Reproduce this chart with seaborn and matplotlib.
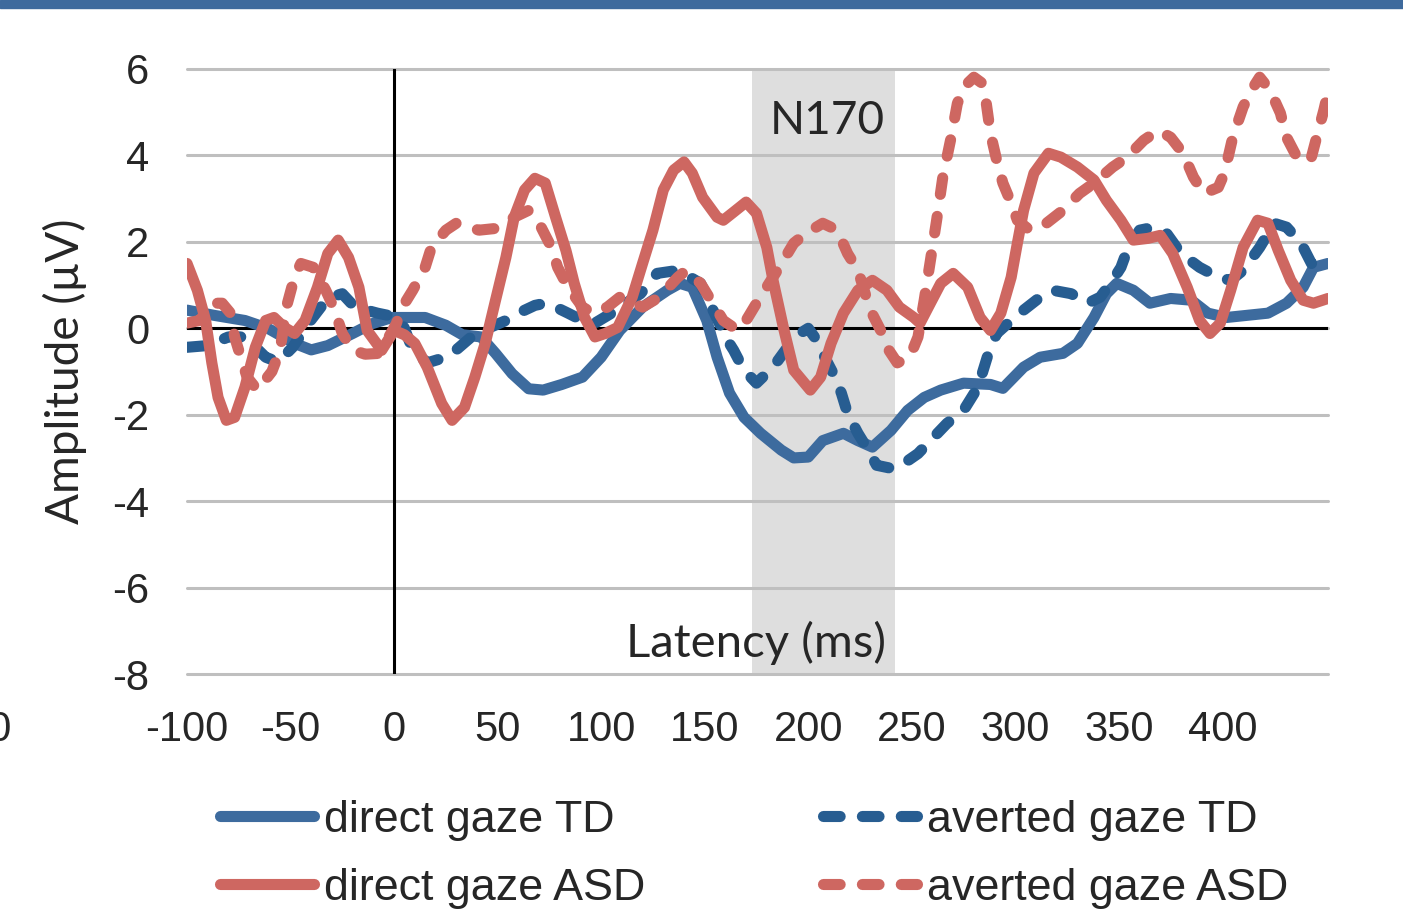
import matplotlib
matplotlib.use('Agg')
import matplotlib.pyplot as plt
import seaborn as sns
from matplotlib.patches import Rectangle

# latency (ms) / amplitude (uV)
direct_td_ms = [-100, -87, -72, -61, -48, -40, -32, -20, -11, -1, 15, 25, 33, 42, 49, 57, 65, 72, 81, 91,
                100, 109, 120, 132, 138, 144, 151, 156, 162, 169, 177, 187, 193, 200, 207, 217, 224, 231, 240,
                248, 256, 264, 275, 288, 294, 304, 312, 323, 330, 338, 344, 349, 357, 365, 375, 385, 393, 402,
                422, 431, 439, 444, 451]
direct_td_uv = [0.42, 0.30, 0.18, 0.00, -0.35, -0.50, -0.40, -0.12, 0.10, 0.25, 0.25, 0.07, -0.15, -0.20,
                -0.58, -1.05, -1.40, -1.43, -1.30, -1.13, -0.67, -0.05, 0.49, 0.88, 1.04, 0.95, 0.18, -0.67,
                -1.50, -2.06, -2.43, -2.82, -3.00, -2.98, -2.60, -2.43, -2.60, -2.75, -2.36, -1.90, -1.60,
                -1.43, -1.27, -1.30, -1.39, -0.90, -0.67, -0.58, -0.35, 0.25, 0.80, 1.04, 0.88, 0.58, 0.69,
                0.65, 0.35, 0.25, 0.35, 0.58, 0.95, 1.41, 1.50]

averted_td_ms = [-100, -90, -80, -72, -62, -56, -49, -40, -32, -25, -19, -8, 2, 5, 9, 16, 25, 30, 38, 43,
                 54, 60, 68, 73, 78, 84, 91, 97, 105, 109, 119, 127, 137, 143, 148, 154, 161, 164, 169, 175,
                 183, 190, 196, 200, 203, 207, 212, 216, 219, 224, 229, 233, 240, 244, 253, 259, 267, 275,
                 282, 287, 291, 298, 304, 312, 318, 327, 335, 341, 347, 351, 354, 360, 367, 373, 380, 389,
                 398, 404, 410, 418, 425, 431, 438, 443, 451]
averted_td_uv = [-0.44, -0.40, -0.20, -0.20, -0.67, -0.78, -0.44, 0.20, 0.70, 0.80, 0.49, 0.35, 0.25, 0.00,
                 -0.50, -0.80, -0.67, -0.50, -0.17, -0.05, 0.18, 0.35, 0.53, 0.58, 0.49, 0.35, 0.18, 0.12,
                 0.35, 0.49, 0.80, 1.27, 1.34, 1.18, 1.04, 0.42, -0.28, -0.51, -0.97, -1.27, -0.90, -0.44,
                 -0.12, 0.00, -0.20, -0.58, -1.04, -1.50, -1.97, -2.43, -2.82, -3.17, -3.24, -3.20, -2.90,
                 -2.60, -2.20, -1.90, -1.36, -0.58, -0.12, 0.18, 0.42, 0.72, 0.88, 0.80, 0.58, 0.72, 1.11,
                 1.41, 1.80, 2.27, 2.34, 2.20, 1.73, 1.41, 1.18, 1.11, 1.34, 1.87, 2.43, 2.34, 1.97, 1.50,
                 1.41]

direct_asd_ms = [-100, -95, -91, -88, -85, -81, -77, -72, -67, -62, -58, -53, -48, -43, -37, -32, -27, -22,
                 -17, -13, -6, 0, 5, 10, 16, 23, 28, 34, 39, 44, 49, 54, 58, 63, 68, 73, 78, 83, 87, 92, 97,
                 102, 108, 115, 120, 125, 130, 135, 140, 144, 149, 156, 159, 164, 170, 175, 180, 183, 188,
                 193, 201, 206, 211, 217, 224, 231, 238, 244, 251, 254, 258, 264, 270, 277, 283, 288, 293,
                 298, 301, 304, 309, 316, 322, 330, 338, 344, 351, 357, 364, 370, 376, 383, 389, 394, 399,
                 404, 410, 417, 422, 427, 433, 439, 444, 451]
direct_asd_uv = [1.50, 0.88, 0.18, -0.80, -1.60, -2.13, -2.06, -1.36, -0.44, 0.18, 0.25, 0.02, -0.12, 0.18,
                 0.95, 1.73, 2.04, 1.64, 0.95, -0.05, -0.51, -0.05, -0.15, -0.35, -0.90, -1.74, -2.13,
                 -1.83, -1.13, -0.35, 0.65, 1.64, 2.57, 3.20, 3.47, 3.36, 2.57, 1.80, 1.04, 0.25, -0.20,
                 -0.12, 0.02, 0.72, 1.50, 2.27, 3.20, 3.66, 3.85, 3.59, 3.03, 2.57, 2.50, 2.69, 2.92, 2.66,
                 1.87, 1.11, 0.02, -0.97, -1.43, -1.13, -0.35, 0.35, 0.88, 1.11, 0.88, 0.49, 0.25, 0.12,
                 0.49, 1.04, 1.27, 0.95, 0.25, -0.05, 0.35, 1.18, 1.97, 2.73, 3.59, 4.05, 3.96, 3.73, 3.43,
                 2.96, 2.50, 2.04, 2.08, 2.15, 1.73, 0.95, 0.18, -0.12, 0.12, 0.88, 1.87, 2.50, 2.43, 1.80,
                 1.11, 0.65, 0.58, 0.69]

averted_asd_ms = [-100, -94, -87, -83, -79, -77, -74, -71, -66, -59, -55, -52, -48, -45, -39, -33, -29, -25,
                  -20, -14, -7, 1, 4, 9, 15, 18, 25, 30, 41, 49, 58, 65, 71, 76, 79, 84, 91, 96, 103, 109,
                  120, 128, 137, 141, 148, 153, 159, 166, 170, 175, 186, 193, 199, 207, 214, 219, 224, 227,
                  230, 235, 238, 243, 249, 253, 256, 259, 262, 265, 269, 272, 275, 280, 284, 286, 288, 291,
                  294, 298, 301, 307, 315, 323, 331, 338, 347, 354, 362, 369, 375, 381, 386, 391, 398, 401,
                  405, 410, 414, 418, 423, 428, 431, 436, 439, 443, 446, 449, 451]
averted_asd_uv = [0.12, 0.18, 0.58, 0.58, 0.35, -0.20, -0.67, -1.13, -1.43, -1.00, -0.50, 0.49, 1.20, 1.50,
                  1.41, 0.88, 0.46, -0.12, -0.50, -0.60, -0.58, 0.10, 0.49, 0.88, 1.41, 1.87, 2.27, 2.43,
                  2.27, 2.31, 2.57, 2.73, 2.34, 1.87, 1.41, 0.95, 0.49, 0.35, 0.49, 0.72, 0.49, 0.72, 1.18,
                  1.34, 1.04, 0.65, 0.18, -0.05, 0.18, 0.58, 1.41, 1.97, 2.20, 2.43, 2.27, 1.73, 1.34, 0.88,
                  0.42, -0.05, -0.44, -0.80, -0.67, -0.20, 0.65, 1.57, 2.50, 3.50, 4.42, 5.20, 5.58, 5.81,
                  5.67, 5.20, 4.51, 3.89, 3.36, 2.90, 2.50, 2.27, 2.43, 2.73, 3.12, 3.36, 3.73, 3.96, 4.35,
                  4.58, 4.42, 4.05, 3.50, 3.12, 3.26, 3.59, 4.42, 5.12, 5.51, 5.81, 5.51, 4.98, 4.42, 3.96,
                  3.84, 3.96, 4.51, 5.05, 5.46]

x_ticks = [-100, -50, 0, 50, 100, 150, 200, 250, 300, 350, 400]
y_ticks = [-8, -6, -4, -2, 0, 2, 4, 6]
n170_window = (173, 242)

blue_solid = '#3d6b9e'
blue_dash = '#275d91'
red = '#ce6761'

sns.set_style('white')
plt.rcParams['font.family'] = ['Liberation Sans', 'DejaVu Sans']
plt.rcParams['axes.unicode_minus'] = False

fig = plt.figure(figsize=(14.03, 9.22), dpi=100)
ax = fig.add_axes([187 / 1403, 1 - 674 / 922, 1141 / 1403, 605 / 922])

# blue strip across the top of the slide
fig.patches.append(Rectangle((0, 1 - 8 / 922), 1, 8 / 922, transform=fig.transFigure,
                             color='#3e6a9d', zorder=0))

ax.axvspan(*n170_window, color='#dedede', lw=0, zorder=0)
for v in y_ticks:
    ax.axhline(v, color='#bfbfbf', lw=2.2, zorder=0.5, clip_on=False)
ax.axhline(0, color='black', lw=2.2, zorder=1)
ax.axvline(0, color='black', lw=2.2, zorder=1)

lw = 8
dash = (0, (1.5, 2.0))
common = dict(ax=ax, lw=lw, solid_capstyle='round', dash_capstyle='round', zorder=3)
sns.lineplot(x=direct_td_ms, y=direct_td_uv, color=blue_solid, label='direct gaze TD', **common)
sns.lineplot(x=averted_td_ms, y=averted_td_uv, color=blue_dash, linestyle=dash,
             label='averted gaze TD', **common)
sns.lineplot(x=direct_asd_ms, y=direct_asd_uv, color=red, label='direct gaze ASD', **common)
sns.lineplot(x=averted_asd_ms, y=averted_asd_uv, color=red, linestyle=dash,
             label='averted gaze ASD', **common)

ax.set_xlim(-100, 451)
ax.set_ylim(-8, 6)
ax.set_xticks(x_ticks)
ax.set_yticks(y_ticks)
ax.tick_params(axis='both', length=0, labelsize=30)
ax.tick_params(axis='x', pad=26)
ax.tick_params(axis='y', pad=27)
for s in ax.spines.values():
    s.set_visible(False)
ax.grid(False)
ax.set_xlabel('')

# stray tick label cut by the left edge of the slide
ax.annotate('-200', xy=(-205, 0), xycoords=('data', 'axes fraction'), xytext=(0, -26),
            textcoords='offset points', ha='center', va='top', fontsize=30, annotation_clip=False)

ax.set_ylabel('Amplitude (µV)', fontsize=33, family=['Lato', 'DejaVu Sans'], va='center')
ax.yaxis.set_label_coords(-0.107, 0.5)
ax.text(175, -7.27, 'Latency (ms)', fontsize=34, family=['Lato', 'DejaVu Sans'],
        ha='center', va='center', zorder=4)
ax.text(209, 4.8, 'N170', fontsize=33, family=['Lato', 'DejaVu Sans'],
        ha='center', va='center', zorder=4)

h, l = ax.get_legend_handles_labels()
ax.get_legend().remove()
order = [0, 2, 1, 3]
fig.legend([h[i] for i in order], [l[i] for i in order], ncol=2, loc='upper left',
           bbox_to_anchor=(220 / 1403, 1 - 800 / 922), frameon=False, fontsize=32.3,
           handlelength=2.1, handletextpad=0.22, columnspacing=3.95, labelspacing=0.6,
           borderpad=0, borderaxespad=0)

fig.savefig('out.png', dpi=100)
